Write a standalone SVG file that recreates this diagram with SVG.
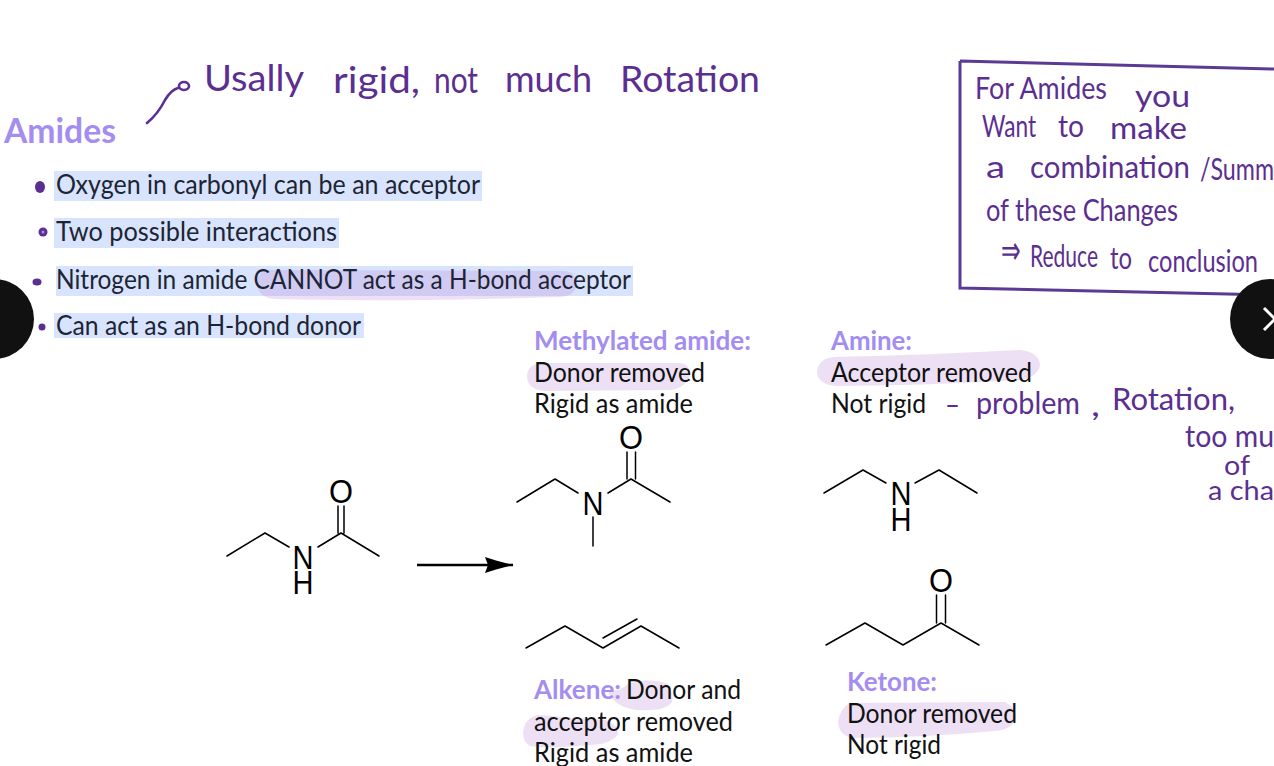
<svg xmlns="http://www.w3.org/2000/svg" width="1274" height="766" viewBox="0 0 1274 766">
<style>
text{font-family:"Lato","Noto Sans",sans-serif}
.t{font-size:27px;fill:#1d2433}
.b{font-size:27px;font-weight:700;fill:#a48df0}
.k{font-size:27px;fill:#111}
.h{font-size:30px;fill:#5b2f91;font-family:"Lato","Noto Sans",sans-serif}
.blue{fill:#d8e4fd}
.pink{fill:#b47fd6;fill-opacity:.24}
.bond{fill:none;stroke:#000;stroke-width:1.5;stroke-linecap:round;stroke-linejoin:round}
.atom{font-family:"Liberation Sans",Arial,sans-serif;font-size:34px;fill:#000;text-anchor:middle}
.ink{fill:none;stroke:#5b2f91;stroke-width:2.6;stroke-linecap:round;stroke-linejoin:round}
.dot{fill:#5b2f91}
</style>
<defs>
<marker id="head" markerUnits="userSpaceOnUse" markerWidth="30" markerHeight="20" refX="28" refY="10" orient="auto" overflow="visible"><path d="M0 2L11 5.5L28 10L11 14.5L0 18L3 10Z" fill="#000"/></marker>
</defs>
<rect width="1274" height="766" fill="#fff"/>

<g id="amides-notes">
<text class="b" x="4" y="143" style="font-size:34px" textLength="112" lengthAdjust="spacingAndGlyphs">Amides</text>
<rect class="blue" x="54" y="171" width="428" height="30"/>
<rect class="blue" x="54" y="218" width="285" height="30"/>
<rect class="blue" x="56" y="266" width="577" height="30"/>
<rect class="blue" x="54" y="313" width="310" height="25"/>
<path class="pink" d="M257 283Q258 270 270 270L565 271Q576 272 576 284Q576 296 560 297Q400 302 275 299Q258 298 257 283Z"/>
<ellipse class="dot" cx="40" cy="187" rx="5" ry="6"/>
<circle class="dot" cx="43" cy="232" r="4.5"/><circle cx="43" cy="232" r="1.5" fill="#a98fd0"/>
<ellipse class="dot" cx="37" cy="282" rx="4.5" ry="3.5"/>
<circle class="dot" cx="42" cy="327" r="3.5"/>
<text class="t" x="56" y="194" textLength="424" lengthAdjust="spacingAndGlyphs">Oxygen in carbonyl can be an acceptor</text>
<text class="t" x="56" y="241" textLength="281" lengthAdjust="spacingAndGlyphs">Two possible interactions</text>
<text class="t" x="56" y="289" textLength="575" lengthAdjust="spacingAndGlyphs">Nitrogen in amide CANNOT act as a H-bond acceptor</text>
<text class="t" x="56" y="335" textLength="305" lengthAdjust="spacingAndGlyphs">Can act as an H-bond donor</text>
</g>

<g id="rigid-note">
<path class="ink" d="M147 123Q158 114 165 100Q171 90 178 88"/>
<ellipse class="ink" cx="184" cy="86" rx="5" ry="4"/>
<g class="h" style="font-size:36px">
<text x="204" y="91" textLength="100" lengthAdjust="spacingAndGlyphs">Usally</text>
<text x="333" y="93" textLength="87" lengthAdjust="spacingAndGlyphs">rigid,</text>
<text x="434" y="93" textLength="44" lengthAdjust="spacingAndGlyphs">not</text>
<text x="505" y="92" textLength="87" lengthAdjust="spacingAndGlyphs">much</text>
<text x="620" y="92" textLength="140" lengthAdjust="spacingAndGlyphs">Rotation</text>
</g>
</g>

<g id="summary-box">
<path d="M960 61L1274 69M960 61V288L1274 295" fill="none" stroke="#5b3a94" stroke-width="3"/>
<g class="h">
<text x="975" y="99" textLength="132" lengthAdjust="spacingAndGlyphs">For Amides</text>
<text x="1135" y="107" textLength="55" lengthAdjust="spacingAndGlyphs">you</text>
<text x="982" y="137" textLength="54" lengthAdjust="spacingAndGlyphs">Want</text>
<text x="1058" y="137" textLength="26" lengthAdjust="spacingAndGlyphs">to</text>
<text x="1110" y="139" textLength="77" lengthAdjust="spacingAndGlyphs">make</text>
<text x="986" y="178" textLength="19" lengthAdjust="spacingAndGlyphs">a</text>
<text x="1030" y="178" textLength="160" lengthAdjust="spacingAndGlyphs">combination</text>
<text x="1200" y="180" textLength="74" lengthAdjust="spacingAndGlyphs">/Summ</text>
<text x="986" y="221" textLength="192" lengthAdjust="spacingAndGlyphs">of these Changes</text>
<text x="1001" y="264" style="font-size:40px" textLength="20" lengthAdjust="spacingAndGlyphs">⇒</text>
<text x="1030" y="267" textLength="68" lengthAdjust="spacingAndGlyphs">Reduce</text>
<text x="1110" y="269" textLength="22" lengthAdjust="spacingAndGlyphs">to</text>
<text x="1148" y="272" textLength="110" lengthAdjust="spacingAndGlyphs">conclusion</text>
</g>
</g>

<g id="rotation-note" class="h">
<text x="945" y="415" textLength="15" lengthAdjust="spacingAndGlyphs">–</text>
<text x="976" y="414" textLength="104" lengthAdjust="spacingAndGlyphs">problem</text>
<text x="1091" y="416" textLength="9" lengthAdjust="spacingAndGlyphs">,</text>
<text x="1112" y="410" textLength="123" lengthAdjust="spacingAndGlyphs">Rotation,</text>
<text x="1185" y="447" textLength="89" lengthAdjust="spacingAndGlyphs">too mu</text>
<text x="1224" y="475" style="font-size:27px" textLength="26" lengthAdjust="spacingAndGlyphs">of</text>
<text x="1208" y="500" style="font-size:27px" textLength="66" lengthAdjust="spacingAndGlyphs">a cha</text>
</g>

<g id="label-methylated">
<path class="pink" d="M527 377Q527 364 542 363L680 363Q690 364 690 374Q688 386 672 390L545 391Q528 390 527 377Z"/>
<text class="b" x="534" y="350" textLength="217" lengthAdjust="spacingAndGlyphs">Methylated amide:</text>
<text class="k" x="534" y="382" textLength="171" lengthAdjust="spacingAndGlyphs">Donor removed</text>
<text class="k" x="534" y="413" textLength="159" lengthAdjust="spacingAndGlyphs">Rigid as amide</text>
</g>
<g id="label-amine">
<path class="pink" d="M817 372Q818 358 835 357Q930 355 1020 350Q1040 352 1040 366Q1036 378 1020 380Q920 386 835 386Q818 384 817 372Z"/>
<text class="b" x="831" y="350" textLength="81" lengthAdjust="spacingAndGlyphs">Amine:</text>
<text class="k" x="831" y="382" textLength="201" lengthAdjust="spacingAndGlyphs">Acceptor removed</text>
<text class="k" x="831" y="413" textLength="95" lengthAdjust="spacingAndGlyphs">Not rigid</text>
</g>
<g id="label-alkene">
<path class="pink" d="M608 692Q622 690 628 684Q650 677 668 684Q674 694 672 702Q666 710 648 710Q618 712 608 692Z"/>
<path class="pink" d="M523 733Q524 718 538 715L605 720Q619 725 618 734Q610 745 590 745Q545 749 530 746Q523 742 523 733Z"/>
<text class="b" x="534" y="699" textLength="87" lengthAdjust="spacingAndGlyphs">Alkene:</text>
<text class="k" x="626" y="699" textLength="115" lengthAdjust="spacingAndGlyphs">Donor and</text>
<text class="k" x="534" y="731" textLength="199" lengthAdjust="spacingAndGlyphs">acceptor removed</text>
<text class="k" x="534" y="762" textLength="159" lengthAdjust="spacingAndGlyphs">Rigid as amide</text>
</g>
<g id="label-ketone">
<path class="pink" d="M838 722Q840 708 850 703L1005 702Q1016 707 1016 718Q1012 730 995 731Q920 738 850 738Q838 733 838 722Z"/>
<text class="b" x="847" y="691" textLength="90" lengthAdjust="spacingAndGlyphs">Ketone:</text>
<text class="k" x="847" y="723" textLength="170" lengthAdjust="spacingAndGlyphs">Donor removed</text>
<text class="k" x="847" y="754" textLength="94" lengthAdjust="spacingAndGlyphs">Not rigid</text>
</g>

<g id="mol-amide">
<path class="bond" d="M227 556L265 533L289 547M318 547L341 533L379 556M338 533V506M344 533V506"/>
<text class="atom" x="303" y="569" textLength="21" lengthAdjust="spacingAndGlyphs">N</text><text class="atom" x="303" y="594" textLength="21" lengthAdjust="spacingAndGlyphs">H</text><text class="atom" x="341" y="503" textLength="24" lengthAdjust="spacingAndGlyphs">O</text>
</g>
<g id="mol-methylated">
<path class="bond" d="M517 502L555 479L578 493M608 493L631 479L670 502M627 479V452M635.5 479V452M593 517V546"/>
<text class="atom" x="593" y="515" textLength="21" lengthAdjust="spacingAndGlyphs">N</text><text class="atom" x="631" y="449" textLength="24" lengthAdjust="spacingAndGlyphs">O</text>
</g>
<g id="mol-amine">
<path class="bond" d="M824 493L863 470L886 483M915 483L939 470L977 493"/>
<text class="atom" x="901" y="505" textLength="21" lengthAdjust="spacingAndGlyphs">N</text><text class="atom" x="901" y="531" textLength="21" lengthAdjust="spacingAndGlyphs">H</text>
</g>
<g id="mol-alkene">
<path class="bond" d="M526 648L565 626L603 648L641 626L679 648M603 638L637 619"/>
</g>
<g id="mol-ketone">
<path class="bond" d="M826 645L865 623L903 645L941 623L979 645M936.5 623V595M945.5 623V595"/>
<text class="atom" x="941" y="592" textLength="24" lengthAdjust="spacingAndGlyphs">O</text>
</g>

<g id="connectors">
<path d="M417 565H513" stroke="#000" stroke-width="2.5" fill="none" marker-end="url(#head)"/>
</g>

<g id="nav-prev">
<circle cx="-6" cy="319" r="40" fill="#111"/>
</g>
<g id="nav-next">
<circle cx="1270" cy="319" r="40" fill="#111"/>
<path d="M1264 308L1275 319L1264 330" fill="none" stroke="#fff" stroke-width="3"/>
</g>
</svg>
